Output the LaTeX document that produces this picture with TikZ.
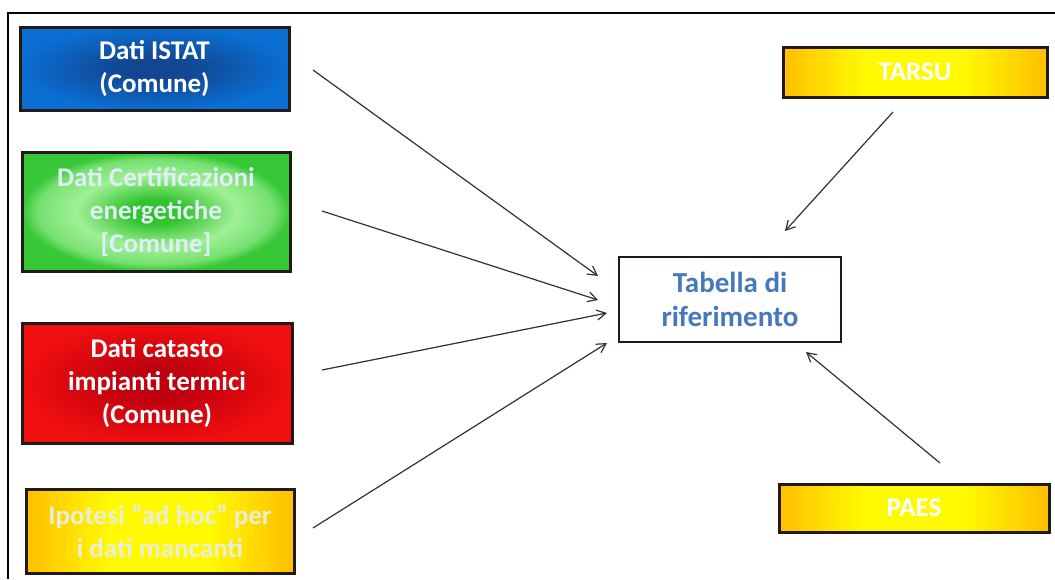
\documentclass[tikz,border=0pt]{standalone}
\usepackage{fontspec}
\setmainfont{Carlito}
\usetikzlibrary{arrows.meta}
\definecolor{bluecore}{RGB}{18,70,145}
\definecolor{blueedge}{RGB}{10,110,210}
\definecolor{greencore}{RGB}{50,195,45}
\definecolor{greenring}{RGB}{160,240,150}
\definecolor{greenedge}{RGB}{55,200,55}
\definecolor{redcore}{RGB}{190,0,15}
\definecolor{rededge}{RGB}{240,15,15}
\definecolor{yelloworange}{RGB}{255,190,0}
\definecolor{yellowmid}{RGB}{255,250,0}
\definecolor{boxborder}{RGB}{35,25,25}
\definecolor{tabblue}{RGB}{70,120,190}
\definecolor{textpale}{RGB}{225,238,250}
\definecolor{textcream}{RGB}{235,238,215}
\definecolor{arrowgray}{RGB}{50,50,50}
\pgfdeclareradialshading{bluesh}{\pgfpoint{0bp}{0bp}}{color(0bp)=(bluecore); color(6bp)=(bluecore); color(25bp)=(blueedge); color(50bp)=(blueedge)}
\pgfdeclareradialshading{redsh}{\pgfpoint{0bp}{0bp}}{color(0bp)=(redcore); color(6bp)=(redcore); color(25bp)=(rededge); color(50bp)=(rededge)}
\pgfdeclareradialshading{greensh}{\pgfpoint{0bp}{0bp}}{color(0bp)=(greencore); color(5bp)=(greencore); color(15bp)=(greenring); color(22bp)=(greenring!60!greenedge); color(25bp)=(greenedge); color(50bp)=(greenedge)}
% yellow gradient strips: cx, cy, width, height
\newcommand{\yellowgrad}[4]{%
  \foreach \i in {0,...,39}{%
    \pgfmathsetmacro\ypct{min(100,160-abs(\i-19.5)*8)}%
    \pgfmathsetmacro\xa{#1-#3/2+#3*\i/40}%
    \pgfmathsetmacro\xb{#1-#3/2+#3*(\i+1.1)/40}%
    \pgfmathsetmacro\ya{#2-#4/2}%
    \pgfmathsetmacro\yb{#2+#4/2}%
    \fill[yellowmid!\ypct!yelloworange] (\xa,\ya) rectangle (\xb,\yb);
  }}
\tikzset{
  srcbox/.style={draw=boxborder, line width=3pt, rectangle, align=center,
    font=\fontsize{27}{33}\selectfont\bfseries, inner sep=0pt},
  bluebox/.style={srcbox, shading=bluesh, text=white},
  greenbox/.style={srcbox, shading=greensh, text=textpale},
  redbox/.style={srcbox, shading=redsh, text=white},
  yellowbox/.style={srcbox, text=textcream},
  tabbox/.style={draw=boxborder, line width=2pt, rectangle, align=center, fill=white,
    font=\fontsize{29}{34}\selectfont\bfseries, text=tabblue, inner sep=0pt},
  conn/.style={draw=arrowgray, line width=1.2pt, -{Straight Barb[length=9pt,width=10pt]}},
  frameline/.style={draw=black, line width=1.5pt}
}
\begin{document}
\begin{tikzpicture}[x=1pt,y=-1pt]
\useasboundingbox (0,0) rectangle (1055,579);
\fill[white] (0,0) rectangle (1055,579);
\draw[frameline] (8,579) -- (8,13) -- (1055,13);

\yellowgrad{160}{531}{268}{84}
\yellowgrad{915}{72}{264}{50}
\yellowgrad{914}{508}{270}{48}

\node[bluebox, minimum width=269pt, minimum height=83pt] (istat) at (154.5,68.5) {Dati ISTAT\\(Comune)};
\node[greenbox, minimum width=268pt, minimum height=119pt] (cert) at (156,211.5) {Dati Certificazioni\\energetiche\\{[}Comune{]}};
\node[redbox, minimum width=270pt, minimum height=120pt] (catasto) at (157,383) {Dati catasto\\impianti termici\\(Comune)};
\node[yellowbox, minimum width=268pt, minimum height=84pt] (ipotesi) at (160,531) {Ipotesi “ad hoc” per\\i dati mancanti};
\node[yellowbox, text=white, minimum width=264pt, minimum height=50pt] (tarsu) at (915,72) {TARSU};
\node[yellowbox, text=white, minimum width=270pt, minimum height=48pt] (paes) at (914,508) {PAES};
\node[tabbox, minimum width=222pt, minimum height=85pt] (tab) at (730,299.5) {Tabella di\\riferimento};

\coordinate (s1) at (313,70);
\coordinate (s2) at (322,211);
\coordinate (s3) at (322,370);
\coordinate (s4) at (313,528);
\coordinate (s5) at (893,112);
\coordinate (s6) at (940,463);
\coordinate (t1) at (598,276);
\coordinate (t2) at (598,300);
\coordinate (t3) at (607,313);
\coordinate (t4) at (607,343);
\coordinate (t5) at (785,231);
\coordinate (t6) at (806,352);

\draw[conn] (s1) -- (t1);
\draw[conn] (s2) -- (t2);
\draw[conn] (s3) -- (t3);
\draw[conn] (s4) -- (t4);
\draw[conn] (s5) -- (t5);
\draw[conn] (s6) -- (t6);
\end{tikzpicture}
\end{document}
